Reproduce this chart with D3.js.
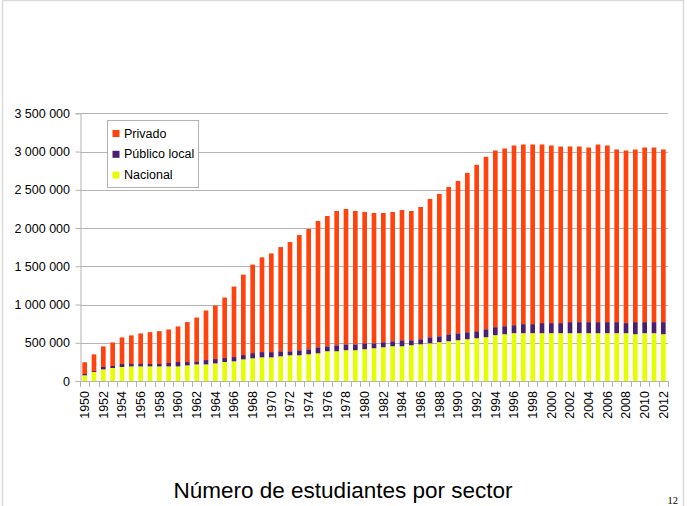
<!DOCTYPE html>
<html>
<head>
<meta charset="utf-8">
<script src="https://cdn.jsdelivr.net/npm/d3@7"></script>
<style>
  body { margin: 0; background: #fff; }
  text { font-family: "Liberation Sans", Arial, sans-serif; }
</style>
</head>
<body>
<svg id="chart" width="687" height="506"></svg>
<script>
const years = d3.range(1950, 2013)
// miles de estudiantes
const nacional = [74, 117, 152, 170, 183, 191, 191, 191, 191, 191, 191, 204, 217, 217, 230, 248, 257, 283, 296, 309,
    309, 323, 336, 336, 349, 362, 389, 389, 402, 402, 415, 428, 441, 454, 454, 467, 480, 493, 507, 520,
    533, 546, 559, 572, 599, 612, 625, 625, 625, 625, 625, 625, 625, 625, 625, 625, 625, 625, 625, 612,
    625, 625, 612]
const publicoLocal = [17, 13, 31, 26, 39, 31, 31, 31, 31, 44, 57, 44, 40, 57, 57, 52, 56, 56, 69, 69,
    69, 66, 53, 66, 66, 79, 65, 78, 78, 78, 78, 65, 66, 66, 79, 66, 66, 79, 78, 91,
    91, 92, 92, 105, 105, 105, 105, 119, 119, 132, 132, 132, 145, 145, 145, 145, 145, 145, 132, 158,
    145, 145, 158]
const privado = [154, 218, 269, 308, 348, 374, 400, 417, 430, 439, 465, 522, 573, 648, 700, 791, 922, 1052, 1157, 1239,
    1290, 1362, 1428, 1506, 1572, 1651, 1703, 1756, 1769, 1743, 1717, 1704, 1690, 1690, 1703, 1690, 1729, 1808, 1861, 1926,
    1992, 2083, 2175, 2255, 2310, 2323, 2349, 2348, 2348, 2335, 2322, 2309, 2296, 2296, 2283, 2322, 2309, 2257, 2257, 2257,
    2283, 2283, 2257]
const yTicks = d3.range(0, 3500001, 500000)
const series = ['Nacional', 'Público local', 'Privado']
const colors = { 'Nacional': '#e6ff00', 'Público local': '#4b1f6f', 'Privado': '#ff420e' }

const svg = d3.select('#chart')
const plotLeft = 80, plotRight = 668, plotTop = 113.3, plotBottom = 381

const rows = years.map((y, i) => ({
    year: y,
    'Nacional': nacional[i] * 1000,
    'Público local': publicoLocal[i] * 1000,
    'Privado': privado[i] * 1000
}))
const stacked = d3.stack().keys(series)(rows)

const x = d3.scaleBand().domain(years).range([plotLeft, plotRight]).paddingInner(0.5).paddingOuter(0.25)
const y = d3.scaleLinear().domain([0, 3500000]).range([plotBottom, plotTop])

// frame
svg.append('rect').attr('x', 2.5).attr('y', 0.5).attr('width', 681).attr('height', 520)
    .attr('fill', 'none').attr('stroke', '#dadada').attr('stroke-width', 1.5)

// grid
svg.append('g').selectAll('line').data(yTicks).join('line')
    .attr('x1', plotLeft).attr('x2', plotRight)
    .attr('y1', d => Math.round(y(d)) + 0.5).attr('y2', d => Math.round(y(d)) + 0.5)
    .attr('stroke', '#b3b3b3')

// bars
svg.append('g').selectAll('g').data(stacked).join('g')
    .attr('fill', d => colors[d.key])
    .selectAll('rect').data(d => d).join('rect')
    .attr('x', d => x(d.data.year))
    .attr('width', x.bandwidth())
    .attr('y', d => y(d[1]))
    .attr('height', d => y(d[0]) - y(d[1]))

// y axis
const yAxis = svg.append('g').attr('transform', `translate(${plotLeft + 0.5},0)`)
    .call(d3.axisLeft(y).tickValues(yTicks).tickSize(5).tickPadding(5.5)
        .tickFormat(d => d3.format(',')(d).replace(/,/g, ' ')))
yAxis.selectAll('line, path').attr('stroke', '#b3b3b3')
yAxis.selectAll('text').attr('font-size', 12.5).attr('fill', '#000')
    .attr('font-family', '"Liberation Sans", Arial, sans-serif')

// x axis
svg.append('line').attr('x1', plotLeft).attr('x2', plotRight).attr('y1', plotBottom + 0.5).attr('y2', plotBottom + 0.5)
    .attr('stroke', '#b3b3b3')
const gap = (x.step() - x.bandwidth()) / 2
const bounds = years.map(yr => x(yr) - gap).concat([x(years[years.length - 1]) + x.bandwidth() + gap])
svg.append('g').selectAll('line').data(bounds).join('line')
    .attr('x1', d => Math.round(d) + 0.5).attr('x2', d => Math.round(d) + 0.5)
    .attr('y1', plotBottom).attr('y2', plotBottom + 6)
    .attr('stroke', '#b3b3b3')

svg.append('g').selectAll('text').data(years.filter(yr => yr % 2 === 0)).join('text')
    .attr('transform', d => `translate(${x(d) + x.bandwidth() / 2},${plotBottom + 10}) rotate(-90)`)
    .attr('text-anchor', 'end').attr('dy', '0.35em')
    .attr('font-size', 12.5)
    .text(d => d)

// legend
const legend = svg.append('g')
legend.append('rect').attr('x', 107.5).attr('y', 120.5).attr('width', 91).attr('height', 67)
    .attr('fill', '#fff').attr('stroke', '#b3b3b3')
const legendItems = ['Privado', 'Público local', 'Nacional']
legendItems.forEach((k, i) => {
    legend.append('rect').attr('x', 112.5).attr('y', 130 + i * 20.8).attr('width', 7).attr('height', 7)
        .attr('fill', colors[k])
    legend.append('text').attr('x', 124).attr('y', 137.5 + i * 20.8)
        .attr('font-size', 12.5).text(k)
})

// title
svg.append('text').attr('x', 343).attr('y', 498).attr('text-anchor', 'middle')
    .attr('font-size', 22.5).text('Número de estudiantes por sector')
svg.append('text').attr('x', 678).attr('y', 504).attr('text-anchor', 'end')
    .attr('font-size', 10.5).style('font-family', '"Liberation Serif", "Times New Roman", serif').text('12')
</script>
</body>
</html>
